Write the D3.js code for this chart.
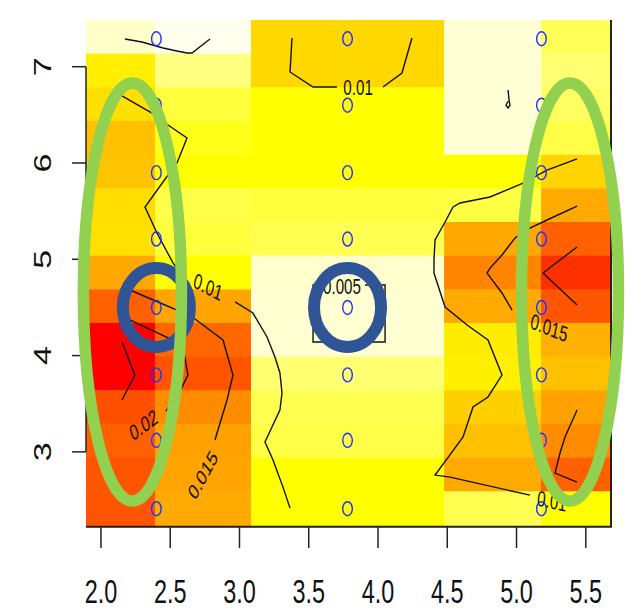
<!DOCTYPE html>
<html>
<head>
<meta charset="utf-8">
<script src="https://cdnjs.cloudflare.com/ajax/libs/d3/7.8.5/d3.min.js"></script>
<style>
  body { margin: 0; background: #fff; }
  text { font-family: "Liberation Sans", Arial, sans-serif; }
</style>
</head>
<body>
<div id="chart"></div>
<script>
var w = 631, h = 611;
var squish = 0.69; // the picture is narrowed horizontally, text too

// image grid: cell edges (x left to right, y top to bottom)
var xBreaks = [1.892, 2.39, 3.083, 4.477, 5.177, 5.682];
var yBreaks = [7.485, 7.136, 6.786, 6.436, 6.086, 5.737, 5.387, 5.037, 4.687, 4.339, 3.989, 3.639, 3.290, 2.940, 2.590, 2.223];

// density in each cell, top row first, one value per x column
var zRows = [
  [0.0051, 0.0035, 0.0110, 0.0048, 0.0078],
  [0.0101, 0.0070, 0.0110, 0.0048, 0.0073],
  [0.0107, 0.0083, 0.0095, 0.0048, 0.0076],
  [0.0122, 0.0090, 0.0095, 0.0048, 0.0081],
  [0.0120, 0.0095, 0.0095, 0.0095, 0.0112],
  [0.0108, 0.0081, 0.0083, 0.0082, 0.0135],
  [0.0107, 0.0083, 0.0079, 0.0136, 0.0170],
  [0.0136, 0.0095, 0.0050, 0.0160, 0.0200],
  [0.0170, 0.0139, 0.0049, 0.0135, 0.0177],
  [0.0230, 0.0168, 0.0049, 0.0102, 0.0130],
  [0.0230, 0.0177, 0.0073, 0.0101, 0.0122],
  [0.0180, 0.0158, 0.0079, 0.0114, 0.0142],
  [0.0170, 0.0142, 0.0081, 0.0122, 0.0158],
  [0.0177, 0.0139, 0.0095, 0.0135, 0.0170],
  [0.0177, 0.0135, 0.0095, 0.0079, 0.0095]
];

// observation points
var pointX = [2.40, 3.78, 5.18];
var pointY = [2.41, 3.12, 3.80, 4.50, 5.21, 5.90, 6.60, 7.29];

var xTicks = [2.0, 2.5, 3.0, 3.5, 4.0, 4.5, 5.0, 5.5];
var yTicks = [3, 4, 5, 6, 7];

// contour lines (x, y pairs)
var contourLines = [
  {level: 0.005, pts: [[2.173,7.288],[2.296,7.256],[2.448,7.194],[2.549,7.163],[2.621,7.142],[2.657,7.142],[2.787,7.288]]},
  {level: 0.01, pts: [[2.152,6.696],[2.368,6.519],[2.484,6.395],[2.621,6.26],[2.549,6.0],[2.448,5.803],[2.318,5.543],[2.404,5.273],[2.520,4.962],[2.570,4.868]]},
  {level: 0.01, pts: [[2.968,4.557],[3.097,4.442],[3.199,4.193],[3.256,3.985],[3.292,3.819],[3.307,3.611],[3.292,3.435],[3.184,3.102],[3.242,2.915],[3.314,2.634],[3.365,2.416]]},
  {level: 0.015, pts: [[2.152,4.722],[2.209,4.681],[2.650,4.411],[2.881,4.162],[2.953,3.798],[2.910,3.539],[2.823,3.123]]},
  {level: 0.02, pts: [[2.152,4.411],[2.549,4.141],[2.592,4.089],[2.628,3.798],[2.585,3.673],[2.469,3.424]]},
  {level: 0.02, pts: [[2.152,4.141],[2.245,3.798],[2.152,3.539]]},
  {level: 0.01, pts: [[3.379,7.298],[3.365,6.945],[3.531,6.789],[3.704,6.789]]},
  {level: 0.01, pts: [[4.036,6.789],[4.173,6.935],[4.245,7.298]]},
  {level: 0.005, pts: [[3.906,4.733],[4.051,4.733],[4.051,4.141],[3.531,4.141],[3.531,4.733],[3.567,4.733]]},
  {level: 0.005, pts: [[4.939,6.758],[4.946,6.654],[4.953,6.600],[4.939,6.571],[4.924,6.600],[4.939,6.640]]},
  {level: 0.01, pts: [[5.437,6.042],[5.220,5.927],[5.047,5.792],[4.931,5.720],[4.809,5.647],[4.592,5.585],[4.542,5.543],[4.484,5.387],[4.412,5.200],[4.404,4.993],[4.404,4.857],[4.484,4.504],[4.643,4.318],[4.794,4.162],[4.895,3.798],[4.794,3.570],[4.686,3.466],[4.614,3.155],[4.534,2.998],[4.412,2.759],[4.520,2.738],[5.097,2.551]]},
  {level: 0.015, pts: [[5.437,5.553],[5.220,5.408],[5.097,5.325],[4.989,5.221],[4.895,5.045],[4.809,4.909],[4.787,4.857],[4.895,4.650],[4.968,4.473]]},
  {level: 0.02, pts: [[5.437,5.128],[5.314,4.993],[5.191,4.857],[5.437,4.525]]},
  {level: 0.015, pts: [[5.437,3.435],[5.350,3.155],[5.314,2.988],[5.278,2.780],[5.437,2.686]]}
];

// contour labels: text, position, angle seen in the picture
var labelText = ["0.01", "0.015", "0.02", "0.01", "0.005", "0.015", "0.01"];
var labelX = [2.773, 2.736, 2.307, 3.856, 3.740, 5.235, 5.256];
var labelY = [4.712, 2.760, 3.279, 6.789, 4.723, 4.287, 2.489];
var labelAngle = [28, -61.6, -36.5, 0, 0, 21.5, 12];

// hand-drawn highlight rings (centre x, centre y, radius x, radius y in data units)
var greenRings = [[2.227, 4.660, 0.354, 2.170], [5.386, 4.660, 0.350, 2.170]];
var navyRings = [[2.40, 4.50, 0.242, 0.410], [3.78, 4.50, 0.242, 0.410]];

var xScale = d3.scaleLinear().domain([1.892, 5.682]).range([86, 611]);
var yScale = d3.scaleLinear().domain([2.223, 7.485]).range([526.7, 20]);

var heat = d3.scaleLinear()
  .domain([0.0035, 0.0048, 0.007, 0.0095, 0.011, 0.013, 0.0158, 0.017, 0.020, 0.023])
  .range(["#FFFFEE", "#FFFFD5", "#FFFF80", "#FFFF00", "#FFD800", "#FFB000", "#FF8C00", "#FF6000", "#FF3000", "#FF0000"])
  .clamp(true);

var svg = d3.select("#chart").append("svg")
  .attr("width", w)
  .attr("height", h);

// heat map cells
var cells = [];
zRows.forEach(function(row, r) {
  row.forEach(function(z, c) {
    cells.push({x0: xBreaks[c], x1: xBreaks[c + 1], y0: yBreaks[r + 1], y1: yBreaks[r], z: z});
  });
});

svg.append("g").selectAll("rect")
  .data(cells)
  .enter()
  .append("rect")
  .attr("x", function(d) { return xScale(d.x0); })
  .attr("y", function(d) { return yScale(d.y1); })
  .attr("width", function(d) { return xScale(d.x1) - xScale(d.x0) + 0.5; })
  .attr("height", function(d) { return yScale(d.y0) - yScale(d.y1) + 0.5; })
  .attr("fill", function(d) { return heat(d.z); });

// contours
var line = d3.line()
  .x(function(d) { return xScale(d[0]); })
  .y(function(d) { return yScale(d[1]); });

svg.append("g").selectAll("path")
  .data(contourLines)
  .enter()
  .append("path")
  .attr("d", function(d) { return line(d.pts); })
  .attr("fill", "none")
  .attr("stroke", "#111")
  .attr("stroke-width", 1.4);

// contour labels, narrowed like the rest of the picture
svg.append("g").selectAll("text")
  .data(labelText)
  .enter()
  .append("text")
  .attr("transform", function(d, i) {
    var a = Math.atan(squish * Math.tan(labelAngle[i] * Math.PI / 180)) * 180 / Math.PI;
    return "translate(" + xScale(labelX[i]) + "," + yScale(labelY[i]) + ") scale(" + squish + ",1) rotate(" + a + ")";
  })
  .attr("text-anchor", "middle")
  .attr("dominant-baseline", "central")
  .attr("font-size", "22px")
  .attr("fill", "#111")
  .text(function(d) { return d; });

// observation points
var pts = [];
pointX.forEach(function(px) { pointY.forEach(function(py) { pts.push([px, py]); }); });

svg.append("g").selectAll("ellipse")
  .data(pts)
  .enter()
  .append("ellipse")
  .attr("cx", function(d) { return xScale(d[0]); })
  .attr("cy", function(d) { return yScale(d[1]); })
  .attr("rx", 4.8)
  .attr("ry", 7)
  .attr("fill", "none")
  .attr("stroke", "#2233ff")
  .attr("stroke-width", 1.4);

// frame: bottom and right edges
svg.append("path")
  .attr("d", "M" + xScale.range()[0] + "," + yScale.range()[0] + "H" + xScale.range()[1] + "V" + yScale.range()[1])
  .attr("fill", "none")
  .attr("stroke", "#222")
  .attr("stroke-width", 2);

// x axis
var xAxis = svg.append("g");
xAxis.selectAll("line")
  .data(xTicks)
  .enter()
  .append("line")
  .attr("x1", function(d) { return xScale(d); })
  .attr("x2", function(d) { return xScale(d); })
  .attr("y1", 527)
  .attr("y2", 548)
  .attr("stroke", "#222")
  .attr("stroke-width", 1.5);

xAxis.selectAll("text")
  .data(xTicks)
  .enter()
  .append("text")
  .attr("transform", function(d) { return "translate(" + xScale(d) + ",603) scale(" + squish + ",1)"; })
  .attr("text-anchor", "middle")
  .attr("font-size", "34px")
  .attr("fill", "#111")
  .text(function(d) { return d3.format(".1f")(d); });

// y axis
var yAxis = svg.append("g");
yAxis.append("line")
  .attr("x1", 86).attr("x2", 86)
  .attr("y1", yScale(d3.min(yTicks)))
  .attr("y2", yScale(d3.max(yTicks)))
  .attr("stroke", "#222")
  .attr("stroke-width", 1.5);

yAxis.selectAll(".tick")
  .data(yTicks)
  .enter()
  .append("line")
  .attr("class", "tick")
  .attr("x1", 72)
  .attr("x2", 86)
  .attr("y1", function(d) { return yScale(d); })
  .attr("y2", function(d) { return yScale(d); })
  .attr("stroke", "#222")
  .attr("stroke-width", 1.5);

yAxis.selectAll("text")
  .data(yTicks)
  .enter()
  .append("text")
  .attr("transform", function(d) { return "translate(51," + yScale(d) + ") scale(" + squish + ",1) rotate(-90)"; })
  .attr("text-anchor", "middle")
  .attr("font-size", "34px")
  .attr("fill", "#111")
  .text(function(d) { return d; });

// highlight rings
svg.append("g").selectAll("ellipse")
  .data(navyRings)
  .enter()
  .append("ellipse")
  .attr("cx", function(d) { return xScale(d[0]); })
  .attr("cy", function(d) { return yScale(d[1]); })
  .attr("rx", function(d) { return xScale(d[0] + d[2]) - xScale(d[0]); })
  .attr("ry", function(d) { return yScale(d[1] - d[3]) - yScale(d[1]); })
  .attr("fill", "none")
  .attr("stroke", "#2F5597")
  .attr("stroke-width", 12);

svg.append("g").selectAll("ellipse")
  .data(greenRings)
  .enter()
  .append("ellipse")
  .attr("cx", function(d) { return xScale(d[0]); })
  .attr("cy", function(d) { return yScale(d[1]); })
  .attr("rx", function(d) { return xScale(d[0] + d[2]) - xScale(d[0]); })
  .attr("ry", function(d) { return yScale(d[1] - d[3]) - yScale(d[1]); })
  .attr("fill", "none")
  .attr("stroke", "#92D050")
  .attr("stroke-width", 11.5);
</script>
</body>
</html>
